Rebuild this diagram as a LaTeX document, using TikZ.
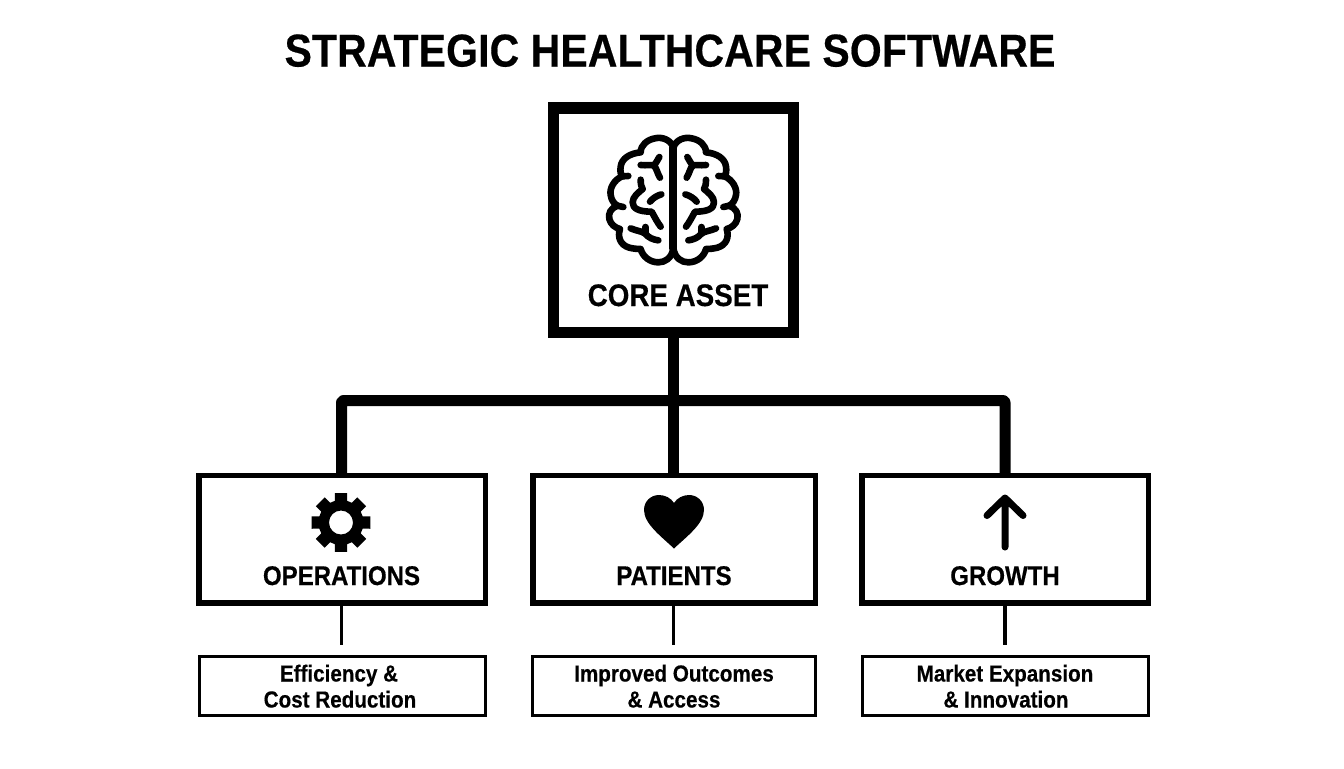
\documentclass[tikz,border=0pt]{standalone}
\usepackage{fontspec}
\setmainfont{Liberation Sans}[BoldFont={Liberation Sans Bold},BoldFeatures={FakeStretch=0.89,FakeBold=0.4}]
\tikzset{
  x=0.5pt,y=-0.5pt,
  corebox/.style={draw=black,line width=5.75pt,inner sep=0,minimum width=120pt,minimum height=112.25pt},
  mainbox/.style={draw=black,line width=2.75pt,fill=white,inner sep=0,minimum width=143.25pt,minimum height=63.75pt},
  subbox/.style={draw=black,line width=1.5pt,fill=white,inner sep=0,minimum width=143pt,minimum height=29.5pt},
  heavy/.style={draw=black,line width=5.5pt,line join=round},
  thin link/.style={draw=black,line width=1.75pt},
  label/.style={font=\bfseries\fontsize{13.5}{13.5}\selectfont,inner sep=0,anchor=base},
  sublabel/.style={font=\bfseries\fontsize{11.6}{11.6}\selectfont,inner sep=0,anchor=base},
  brainline/.style={draw=black,line width=3.3pt,line cap=round,line join=round},
}
\newcommand{\brainhalf}{%
  \draw[brainline] (400,158) .. controls (392,133) and (365,125) .. (345,130)
     .. controls (322,134) and (302,150) .. (302,172)
     .. controls (270,175) and (245,190) .. (242,215)
     .. controls (240,228) and (242,238) .. (246,244)
     .. controls (222,255) and (208,280) .. (212,300)
     .. controls (214,315) and (222,326) .. (232,332)
     .. controls (212,340) and (204,355) .. (208,372)
     .. controls (212,388) and (225,398) .. (240,402)
     .. controls (232,425) and (240,450) .. (268,458)
     .. controls (280,461) and (292,462) .. (302,462)
     .. controls (308,485) and (330,502) .. (355,502)
     .. controls (375,502) and (395,490) .. (400,460);
  \draw[brainline] (246,244) -- (265,243);
  \draw[brainline] (232,332) -- (250,336);
  \draw[brainline] (302,210) .. controls (320,212) and (335,208) .. (342,212)
     .. controls (350,220) and (352,235) .. (360,248);
  \draw[brainline] (342,212) .. controls (348,205) and (352,195) .. (358,186);
  \draw[brainline] (302,254) .. controls (302,268) and (304,276) .. (308,282)
     .. controls (296,292) and (278,305) .. (278,322)
     .. controls (278,340) and (295,350) .. (335,350)
     .. controls (345,368) and (352,382) .. (362,395);
  \draw[brainline] (330,320) .. controls (338,310) and (350,302) .. (364,298);
  \draw[brainline] (272,400) .. controls (290,408) and (305,408) .. (316,416)
     .. controls (325,428) and (340,434) .. (355,436);
  \draw[brainline] (316,396) -- (316,416);
}
\begin{document}
\begin{tikzpicture}
\useasboundingbox (0,0) rectangle (1344,768);
\fill[white] (0,0) rectangle (1344,768);
\coordinate (busL) at (341.5,400.5);
\coordinate (busM) at (673.5,400.5);
\coordinate (busR) at (1005,400.5);
\node[mainbox] (ops) at (342.25,539.25) {};
\node[mainbox,minimum width=141.25pt] (pat) at (674,539.25) {};
\node[mainbox] (gro) at (1005,539.25) {};
\node[subbox] (opsS) at (342,686) {};
\node[subbox,minimum width=141.5pt] (patS) at (673.5,686) {};
\node[subbox] (groS) at (1005,686) {};
\node[corebox] (core) at (673.5,220.25) {};
\draw[heavy] (core.south) -- (pat.north -| core.south);
\draw[heavy,rounded corners=1pt] (ops.north -| busL) -- (busL) -- (busR) -- (gro.north -| busR);
\coordinate (opsT) at (341.5,645);
\coordinate (patT) at (673.5,645);
\coordinate (groT) at (1005,645);
\draw[thin link] (ops.south -| opsT) -- (opsT);
\draw[thin link] (pat.south -| patT) -- (patT);
\draw[thin link] (gro.south -| groT) -- (groT);
\node[font=\bfseries\fontsize{23}{23}\selectfont\addfontfeature{LetterSpace=0.3},inner sep=0,anchor=base] (title) at (670,66.5) {STRATEGIC HEALTHCARE SOFTWARE};
\node[font=\bfseries\fontsize{15.6}{15.6}\selectfont,inner sep=0,anchor=base] (coreL) at (678,306) {CORE ASSET};
\node[label] (opsL) at (341.5,585) {OPERATIONS};
\node[label] (patL) at (674,585) {PATIENTS};
\node[label] (groL) at (1005,585) {GROWTH};
\node[sublabel] (a1) at (339,681.5) {Efficiency \&};
\node[sublabel] (a2) at (340,707.5) {Cost Reduction};
\node[sublabel] (b1) at (674,681.5) {Improved Outcomes};
\node[sublabel] (b2) at (674,707.5) {\& Access};
\node[sublabel] (c1) at (1005,681.5) {Market Expansion};
\node[sublabel] (c2) at (1006,707.5) {\& Innovation};
\begin{scope}[shift={(540,95)},x=0.16667pt,y=-0.16667pt]
  \brainhalf
  \begin{scope}[shift={(800,0)},xscale=-1]
    \brainhalf
  \end{scope}
  \draw[draw=black,line width=4pt,line cap=round] (400,158) -- (400,460);
\end{scope}
\begin{scope}[shift={(341,522.5)}]
  \fill[black,even odd rule] (78:30)
   \foreach \a in {90,135,...,405} {
     -- ({\a-12}:30) -- ({\a+12}:30) -- ({\a+16}:22.5) -- ({\a+29}:22.5)
   } -- cycle (0,0) circle [radius=12];
\end{scope}
\fill[black] (674,548.5) .. controls (662,537) and (644,524) .. (644,510)
  .. controls (644,501) and (651,495) .. (659,495)
  .. controls (665,495) and (671,498) .. (674,503)
  .. controls (677,498) and (683,495) .. (689,495)
  .. controls (697,495) and (704,501) .. (704,510)
  .. controls (704,524) and (686,537) .. (674,548.5) -- cycle;
\draw[black,line width=3.5pt,line cap=round,line join=round] (1005,547) -- (1005,499) (987,515.5) -- (1005,498) -- (1023,515.5);
\end{tikzpicture}
\end{document}
